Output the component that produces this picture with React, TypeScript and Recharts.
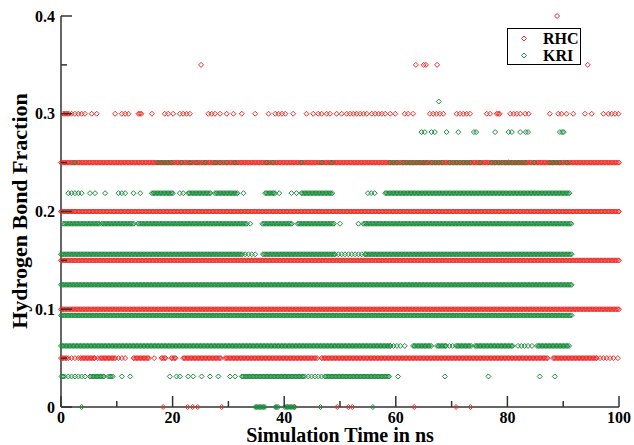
import { ScatterChart, Scatter, XAxis, YAxis, Legend, Label } from "recharts";

const RED = "#ee2c26";
const GREEN = "#1a8c3c";
const AXIS = "#333";
const FONT = "'Liberation Serif', 'Times New Roman', serif";

// frames closer than this (ns) read as a solid band
const STEP = 0.25;
const LOOSE = 0.6;

const X_TICKS = [0, 10, 20, 30, 40, 50, 60, 70, 80, 90, 100];
const X_LABELS = [0, 20, 40, 60, 80, 100];
const Y_TICKS = [0, 0.05, 0.1, 0.15, 0.2, 0.25, 0.3, 0.35, 0.4];

// RHC runs: [fraction, from ns, to ns, spacing ns]
const RHC_RUNS: [number, number, number, number?][] = [
  [0.25, 0, 100],
  [0.2, 0, 100],
  [0.15, 0, 100],
  [0.1, 0, 100],
  [0.05, 0, 1.0],
  [0.05, 1.3, 3.5, LOOSE],
  [0.05, 3.5, 6.0],
  [0.05, 6.0, 7.0, LOOSE],
  [0.05, 7.0, 9.7],
  [0.05, 9.7, 11.5, LOOSE],
  [0.05, 13.0, 15.9],
  [0.05, 18.0, 18.9],
  [0.05, 19.8, 20.7],
  [0.05, 21.9, 28.8],
  [0.05, 29.4, 46.1],
  [0.05, 46.7, 87.3],
  [0.05, 88.2, 96.0],
  [0.05, 96.0, 99.3, LOOSE],
  [0.3, 0.4, 1.6],
  [0.3, 13.9, 14.5],
  [0.3, 21.3, 23.4, LOOSE],
  [0.3, 38.4, 40.7, LOOSE],
  [0.3, 51.8, 54.8, LOOSE],
  [0.3, 55.7, 58.4, LOOSE],
  [0.3, 66.1, 68.8, LOOSE],
  [0.3, 70.9, 73.6, LOOSE],
  [0.3, 78.1, 78.7],
  [0.3, 80.5, 82.6, LOOSE],
  [0.3, 98.1, 99.9, LOOSE],
];

// RHC single frames: [ns, fraction]
const RHC_POINTS: [number, number][] = [
  [16.7, 0.05], [99.8, 0.05],
  [1.9, 0.3], [2.5, 0.3], [3.1, 0.3], [3.7, 0.3], [4.3, 0.3], [5.5, 0.3], [6.4, 0.3],
  [9.7, 0.3], [10.9, 0.3], [11.5, 0.3], [12.1, 0.3], [16.3, 0.3], [18.6, 0.3], [19.2, 0.3],
  [20.1, 0.3], [26.4, 0.3], [27.0, 0.3], [27.6, 0.3], [28.5, 0.3], [29.7, 0.3], [30.9, 0.3],
  [32.4, 0.3], [34.8, 0.3], [37.2, 0.3], [41.6, 0.3], [44.0, 0.3], [45.2, 0.3], [46.1, 0.3],
  [46.7, 0.3], [47.6, 0.3], [48.2, 0.3], [49.4, 0.3], [50.3, 0.3], [51.2, 0.3], [59.0, 0.3],
  [59.9, 0.3], [61.6, 0.3], [62.2, 0.3], [63.1, 0.3], [76.3, 0.3], [76.9, 0.3], [83.2, 0.3],
  [83.8, 0.3], [87.6, 0.3], [89.1, 0.3], [89.7, 0.3], [90.6, 0.3], [91.8, 0.3], [93.9, 0.3],
  [95.1, 0.3], [97.2, 0.3],
  [25.1, 0.35], [63.6, 0.35], [65.0, 0.35], [65.4, 0.35], [67.4, 0.35], [94.4, 0.35],
  [88.9, 0.4],
  [18.3, 0], [22.7, 0], [23.6, 0], [24.5, 0], [28.8, 0], [41.9, 0], [49.5, 0], [51.5, 0],
  [52.2, 0], [63.3, 0], [70.8, 0], [73.4, 0],
];

// KRI runs: [fraction, from ns, to ns, spacing ns]
const KRI_RUNS: [number, number, number, number?][] = [
  [0.125, 0, 91.5],
  [0.09375, 0, 91.5],
  [0.15625, 0, 32.6],
  [0.15625, 36.2, 49.1],
  [0.15625, 49.1, 54.5, LOOSE],
  [0.15625, 54.5, 91.5],
  [0.1875, 0.4, 7.0],
  [0.1875, 7.3, 13.2],
  [0.1875, 13.8, 33.5],
  [0.1875, 36.1, 41.5],
  [0.1875, 42.4, 49.1],
  [0.1875, 54.2, 91.5],
  [0.21875, 1.3, 4.0, LOOSE],
  [0.21875, 16.3, 20.1],
  [0.21875, 22.8, 27.0],
  [0.21875, 27.6, 31.8],
  [0.21875, 36.6, 38.4],
  [0.21875, 43.1, 48.8],
  [0.21875, 55.0, 56.6, LOOSE],
  [0.21875, 58.1, 91.2],
  [0.25, 17.4, 19.8, LOOSE],
  [0.25, 59.0, 60.2, LOOSE],
  [0.25, 61.3, 65.8, LOOSE],
  [0.25, 66.5, 68.5, LOOSE],
  [0.25, 69.7, 73.7, LOOSE],
  [0.25, 77.2, 83.7, LOOSE],
  [0.25, 87.6, 89.7, LOOSE],
  [0.0625, 0, 59.0],
  [0.0625, 59.0, 61.3, LOOSE],
  [0.0625, 63.1, 66.5],
  [0.0625, 67.4, 69.0],
  [0.0625, 69.0, 71.0, LOOSE],
  [0.0625, 71.0, 73.7],
  [0.0625, 74.2, 81.0],
  [0.0625, 81.9, 83.7, LOOSE],
  [0.0625, 85.3, 91.2],
  [0.03125, 0.1, 0.7],
  [0.03125, 1.3, 4.3, LOOSE],
  [0.03125, 5.2, 7.9],
  [0.03125, 8.5, 9.4],
  [0.03125, 20.7, 21.6, LOOSE],
  [0.03125, 32.4, 43.7],
  [0.03125, 44.3, 46.7, LOOSE],
  [0.03125, 47.3, 59.0],
  [0, 34.8, 36.6],
  [0, 38.4, 38.9],
  [0, 40.1, 41.9],
];

// KRI single frames: [ns, fraction]
const KRI_POINTS: [number, number][] = [
  [33.0, 0.15625], [33.6, 0.15625], [34.2, 0.15625], [34.8, 0.15625],
  [33.9, 0.1875], [50.0, 0.1875], [53.3, 0.1875],
  [5.2, 0.21875], [6.1, 0.21875], [7.9, 0.21875], [10.3, 0.21875], [10.9, 0.21875],
  [11.5, 0.21875], [13.0, 0.21875], [14.2, 0.21875], [21.3, 0.21875], [21.9, 0.21875],
  [32.7, 0.21875], [39.1, 0.21875], [41.3, 0.21875], [42.2, 0.21875],
  [2.4, 0.25], [21.6, 0.25], [23.1, 0.25], [24.3, 0.25], [25.8, 0.25], [27.6, 0.25],
  [28.5, 0.25], [29.7, 0.25], [31.2, 0.25], [36.9, 0.25], [38.0, 0.25], [43.1, 0.25],
  [46.7, 0.25], [48.5, 0.25], [75.1, 0.25], [84.8, 0.25], [90.7, 0.25],
  [64.6, 0.28125], [65.2, 0.28125], [66.4, 0.28125], [67.0, 0.28125], [69.1, 0.28125],
  [71.2, 0.28125], [74.0, 0.28125], [74.4, 0.28125], [77.8, 0.28125], [80.2, 0.28125],
  [80.8, 0.28125], [82.3, 0.28125], [83.3, 0.28125], [83.7, 0.28125], [89.4, 0.28125],
  [89.8, 0.28125], [90.1, 0.28125],
  [67.7, 0.3125],
  [61.6, 0.0625], [84.4, 0.0625],
  [10.9, 0.03125], [12.4, 0.03125], [19.5, 0.03125], [22.8, 0.03125], [23.7, 0.03125],
  [25.2, 0.03125], [26.7, 0.03125], [28.2, 0.03125], [30.3, 0.03125], [31.2, 0.03125],
  [60.4, 0.03125], [68.8, 0.03125], [76.6, 0.03125], [85.8, 0.03125], [88.5, 0.03125],
  [3.7, 0], [46.5, 0], [55.9, 0],
];

function toFrames(runs: [number, number, number, number?][], points: [number, number][]) {
  const out: { t: number; f: number }[] = [];
  runs.forEach(([f, from, to, step = STEP]) => {
    for (let t = from; t <= to + 1e-9; t += step) out.push({ t: Math.min(t, to), f });
  });
  points.forEach(([t, f]) => out.push({ t, f }));
  return out;
}

const rhcData = toFrames(RHC_RUNS, RHC_POINTS);
const kriData = toFrames(KRI_RUNS, KRI_POINTS);

const diamond = (cx: number, cy: number, r = 2.5) =>
  `M${cx},${cy - r}L${cx + r},${cy}L${cx},${cy + r}L${cx - r},${cy}Z`;

const marker = (color: string) => (props: any) => (
  <path d={diamond(props.cx, props.cy)} fill="none" stroke={color} strokeWidth={1} />
);

const isMajorY = (v: number) => Math.abs(v * 10 - Math.round(v * 10)) < 1e-6;

function XTick({ x, y, payload }: any) {
  const major = X_LABELS.includes(payload.value);
  return (
    <g>
      <line x1={x} x2={x} y1={y} y2={y - (major ? 11 : 6)} stroke={AXIS} strokeWidth={1.5} />
      {major && (
        <text x={x} y={y + 16} textAnchor="middle" fontFamily={FONT} fontWeight="bold" fontSize={16} fill="#000">
          {payload.value}
        </text>
      )}
    </g>
  );
}

function YTick({ x, y, payload }: any) {
  const major = isMajorY(payload.value);
  return (
    <g>
      <line x1={x} x2={x + (major ? 11 : 6)} y1={y} y2={y} stroke={AXIS} strokeWidth={1.5} />
      {major && (
        <text x={x - 6} y={y + 5.5} textAnchor="end" fontFamily={FONT} fontWeight="bold" fontSize={16} fill="#000">
          {payload.value === 0 ? "0" : payload.value.toFixed(1)}
        </text>
      )}
    </g>
  );
}

function LegendBox() {
  const items = [
    { name: "RHC", color: RED },
    { name: "KRI", color: GREEN },
  ];
  return (
    <div style={{ border: "1.5px solid #000", width: 72, height: 35, boxSizing: "content-box", background: "#fff" }}>
      {items.map((it, i) => (
        <div key={it.name} style={{ position: "absolute", left: 0, top: 2 + i * 17, height: 17, display: "flex", alignItems: "center" }}>
          <svg width={34} height={17} style={{ display: "block" }}>
            <path d={diamond(17, 8.5)} fill="none" stroke={it.color} strokeWidth={1} />
          </svg>
          <span style={{ fontFamily: FONT, fontWeight: "bold", fontSize: 16, color: "#000", marginLeft: 2 }}>{it.name}</span>
        </div>
      ))}
    </div>
  );
}

export default function App() {
  return (
    <div style={{ position: "absolute", left: 0, top: 0, width: 634, height: 445, background: "#fff" }}>
      <ScatterChart width={634} height={445} margin={{ top: 16, right: 15, bottom: 8, left: 8 }}>
        <XAxis
          dataKey="t"
          type="number"
          domain={[0, 100]}
          ticks={X_TICKS}
          interval={0}
          height={30}
          tickSize={0}
          tickMargin={0}
          tickLine={false}
          tick={<XTick />}
          axisLine={{ stroke: AXIS, strokeWidth: 1.5 }}
        >
          <Label
            content={() => (
              <text x={340} y={442} textAnchor="middle" fontFamily={FONT} fontWeight="bold" fontSize={20} fill="#000">
                Simulation Time in ns
              </text>
            )}
          />
        </XAxis>
        <XAxis
          xAxisId="top"
          orientation="top"
          type="number"
          domain={[0, 100]}
          height={0}
          tick={false}
          tickLine={false}
          axisLine={{ stroke: "#555", strokeWidth: 1.2 }}
        />
        <YAxis
          dataKey="f"
          type="number"
          domain={[0, 0.4]}
          ticks={Y_TICKS}
          interval={0}
          width={53}
          tickSize={0}
          tickMargin={0}
          tickLine={false}
          tick={<YTick />}
          axisLine={{ stroke: AXIS, strokeWidth: 1.5 }}
        >
          <Label
            content={() => (
              <text
                x={27}
                y={211}
                transform="rotate(-90, 27, 211)"
                textAnchor="middle"
                fontFamily={FONT}
                fontWeight="bold"
                fontSize={22}
                fill="#000"
              >
                Hydrogen Bond Fraction
              </text>
            )}
          />
        </YAxis>
        <YAxis
          yAxisId="right"
          orientation="right"
          type="number"
          domain={[0, 0.4]}
          width={0}
          tick={false}
          tickLine={false}
          axisLine={{ stroke: "#777", strokeWidth: 2 }}
        />
        <Legend
          layout="vertical"
          align="center"
          verticalAlign="middle"
          content={<LegendBox />}
          wrapperStyle={{ position: "absolute", left: 507, top: 28, width: 75, height: 38 }}
        />
        <Scatter name="RHC" data={rhcData} shape={marker(RED)} isAnimationActive={false} />
        <Scatter name="KRI" data={kriData} shape={marker(GREEN)} isAnimationActive={false} />
      </ScatterChart>
    </div>
  );
}
